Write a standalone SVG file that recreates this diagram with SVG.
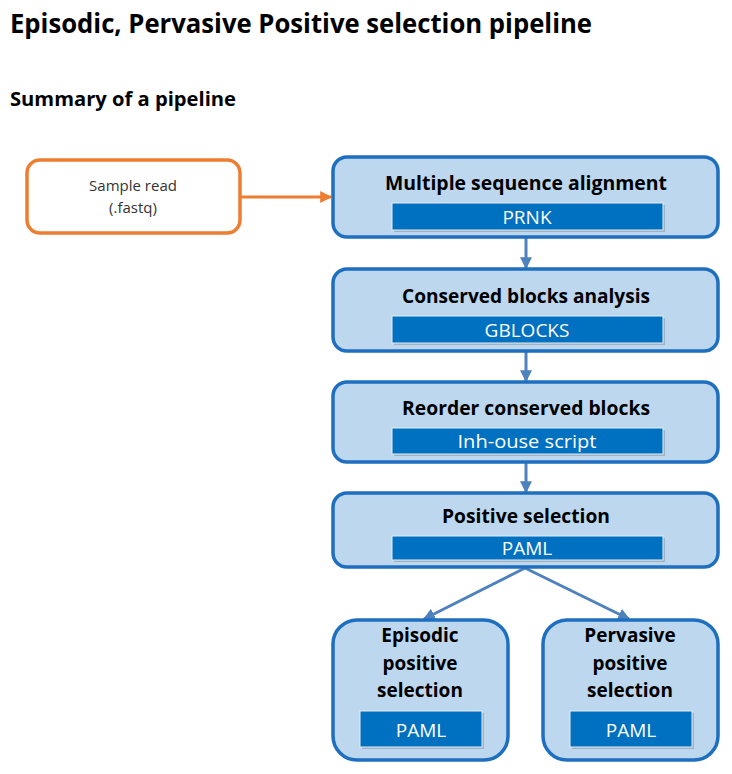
<svg xmlns="http://www.w3.org/2000/svg" width="732" height="774" viewBox="0 0 732 774">
<defs>
<style>
.head{font-family:"Open Sans","Noto Sans","Liberation Sans",sans-serif;font-weight:bold;fill:#000}
.box{fill:#BDD7EE;stroke:#1F6FC0;stroke-width:3.5}
.bar{fill:#0070C0;stroke:#E6EEF6;stroke-width:1}
.shadow{fill:#8A9AAA;opacity:0.6}
.t{font-family:"Open Sans","Noto Sans","Liberation Sans",sans-serif;font-weight:bold;font-size:19px;fill:#000;text-anchor:middle}
.bt{font-family:"Open Sans","Noto Sans","Liberation Sans",sans-serif;font-size:19px;fill:#fff;text-anchor:middle}
.conn{stroke:#4F81BD;stroke-width:3;fill:none}
</style>
<marker id="ab" viewBox="0 0 10 10" refX="9" refY="5" markerWidth="4" markerHeight="4" orient="auto" markerUnits="strokeWidth">
<path d="M0,0 L10,5 L0,10 z" fill="#4F81BD"/>
</marker>
<marker id="ao" viewBox="0 0 10 10" refX="9" refY="5" markerWidth="4" markerHeight="4" orient="auto" markerUnits="strokeWidth">
<path d="M0,0 L10,5 L0,10 z" fill="#ED7D31"/>
</marker>
</defs>
<rect width="732" height="774" fill="#fff"/>
<text class="head" x="10" y="33" font-size="26" textLength="582" lengthAdjust="spacingAndGlyphs">Episodic, Pervasive Positive selection pipeline</text>
<text class="head" x="10" y="106" font-size="19" textLength="226" lengthAdjust="spacingAndGlyphs">Summary of a pipeline</text>

<g id="connectors">
<line class="conn" x1="241" y1="197" x2="331" y2="197" stroke="#ED7D31" style="stroke:#ED7D31" marker-end="url(#ao)"/>
<line class="conn" x1="526" y1="238" x2="526" y2="268" marker-end="url(#ab)"/>
<line class="conn" x1="526" y1="352" x2="526" y2="381" marker-end="url(#ab)"/>
<line class="conn" x1="526" y1="463" x2="526" y2="492" marker-end="url(#ab)"/>
<line class="conn" x1="525" y1="568" x2="424" y2="619" marker-end="url(#ab)"/>
<line class="conn" x1="525" y1="568" x2="629" y2="619" marker-end="url(#ab)"/>
</g>

<g id="sample">
<rect x="27" y="160" width="213" height="73" rx="13" fill="#fff" stroke="#ED7D31" stroke-width="3.5"/>
<text x="133" y="191" font-family="'Open Sans','Noto Sans','Liberation Sans',sans-serif" font-size="15" fill="#333" text-anchor="middle">Sample read</text>
<text x="133" y="213" font-family="'Open Sans','Noto Sans','Liberation Sans',sans-serif" font-size="15" fill="#333" text-anchor="middle">(.fastq)</text>
</g>

<g id="msa">
<rect class="box" x="333" y="157" width="385" height="80" rx="14"/>
<text class="t" x="526" y="190" textLength="282" lengthAdjust="spacingAndGlyphs">Multiple sequence alignment</text>
<rect class="shadow" x="394" y="205" width="271" height="27"/>
<rect class="bar" x="392" y="203" width="271" height="27"/>
<text class="bt" x="527" y="224">PRNK</text>
</g>

<g id="gblocks">
<rect class="box" x="333" y="269" width="385" height="82" rx="14"/>
<text class="t" x="526" y="303" textLength="248" lengthAdjust="spacingAndGlyphs">Conserved blocks analysis</text>
<rect class="shadow" x="394" y="318" width="271" height="27"/>
<rect class="bar" x="392" y="316" width="271" height="27"/>
<text class="bt" x="527" y="337">GBLOCKS</text>
</g>

<g id="reorder">
<rect class="box" x="333" y="382" width="385" height="80" rx="14"/>
<text class="t" x="526" y="415" textLength="248" lengthAdjust="spacingAndGlyphs">Reorder conserved blocks</text>
<rect class="shadow" x="394" y="430" width="271" height="26"/>
<rect class="bar" x="392" y="428" width="271" height="26"/>
<text class="bt" x="527" y="448" textLength="139" lengthAdjust="spacingAndGlyphs">Inh-ouse script</text>
</g>

<g id="positive">
<rect class="box" x="333" y="493" width="385" height="74" rx="14"/>
<text class="t" x="526" y="523" textLength="168" lengthAdjust="spacingAndGlyphs">Positive selection</text>
<rect class="shadow" x="394" y="538" width="271" height="24"/>
<rect class="bar" x="392" y="536" width="271" height="24"/>
<text class="bt" x="527" y="555">PAML</text>
</g>

<g id="episodic">
<rect class="box" x="333" y="620" width="175" height="140" rx="24"/>
<text class="t" x="420" y="642">Episodic</text>
<text class="t" x="420" y="670">positive</text>
<text class="t" x="420" y="697">selection</text>
<rect class="shadow" x="362" y="713" width="122" height="36"/>
<rect class="bar" x="360" y="711" width="122" height="36"/>
<text class="bt" x="421" y="737">PAML</text>
</g>

<g id="pervasive">
<rect class="box" x="543" y="620" width="175" height="140" rx="24"/>
<text class="t" x="630" y="642">Pervasive</text>
<text class="t" x="630" y="670">positive</text>
<text class="t" x="630" y="697">selection</text>
<rect class="shadow" x="572" y="713" width="122" height="36"/>
<rect class="bar" x="570" y="711" width="122" height="36"/>
<text class="bt" x="631" y="737">PAML</text>
</g>
</svg>
